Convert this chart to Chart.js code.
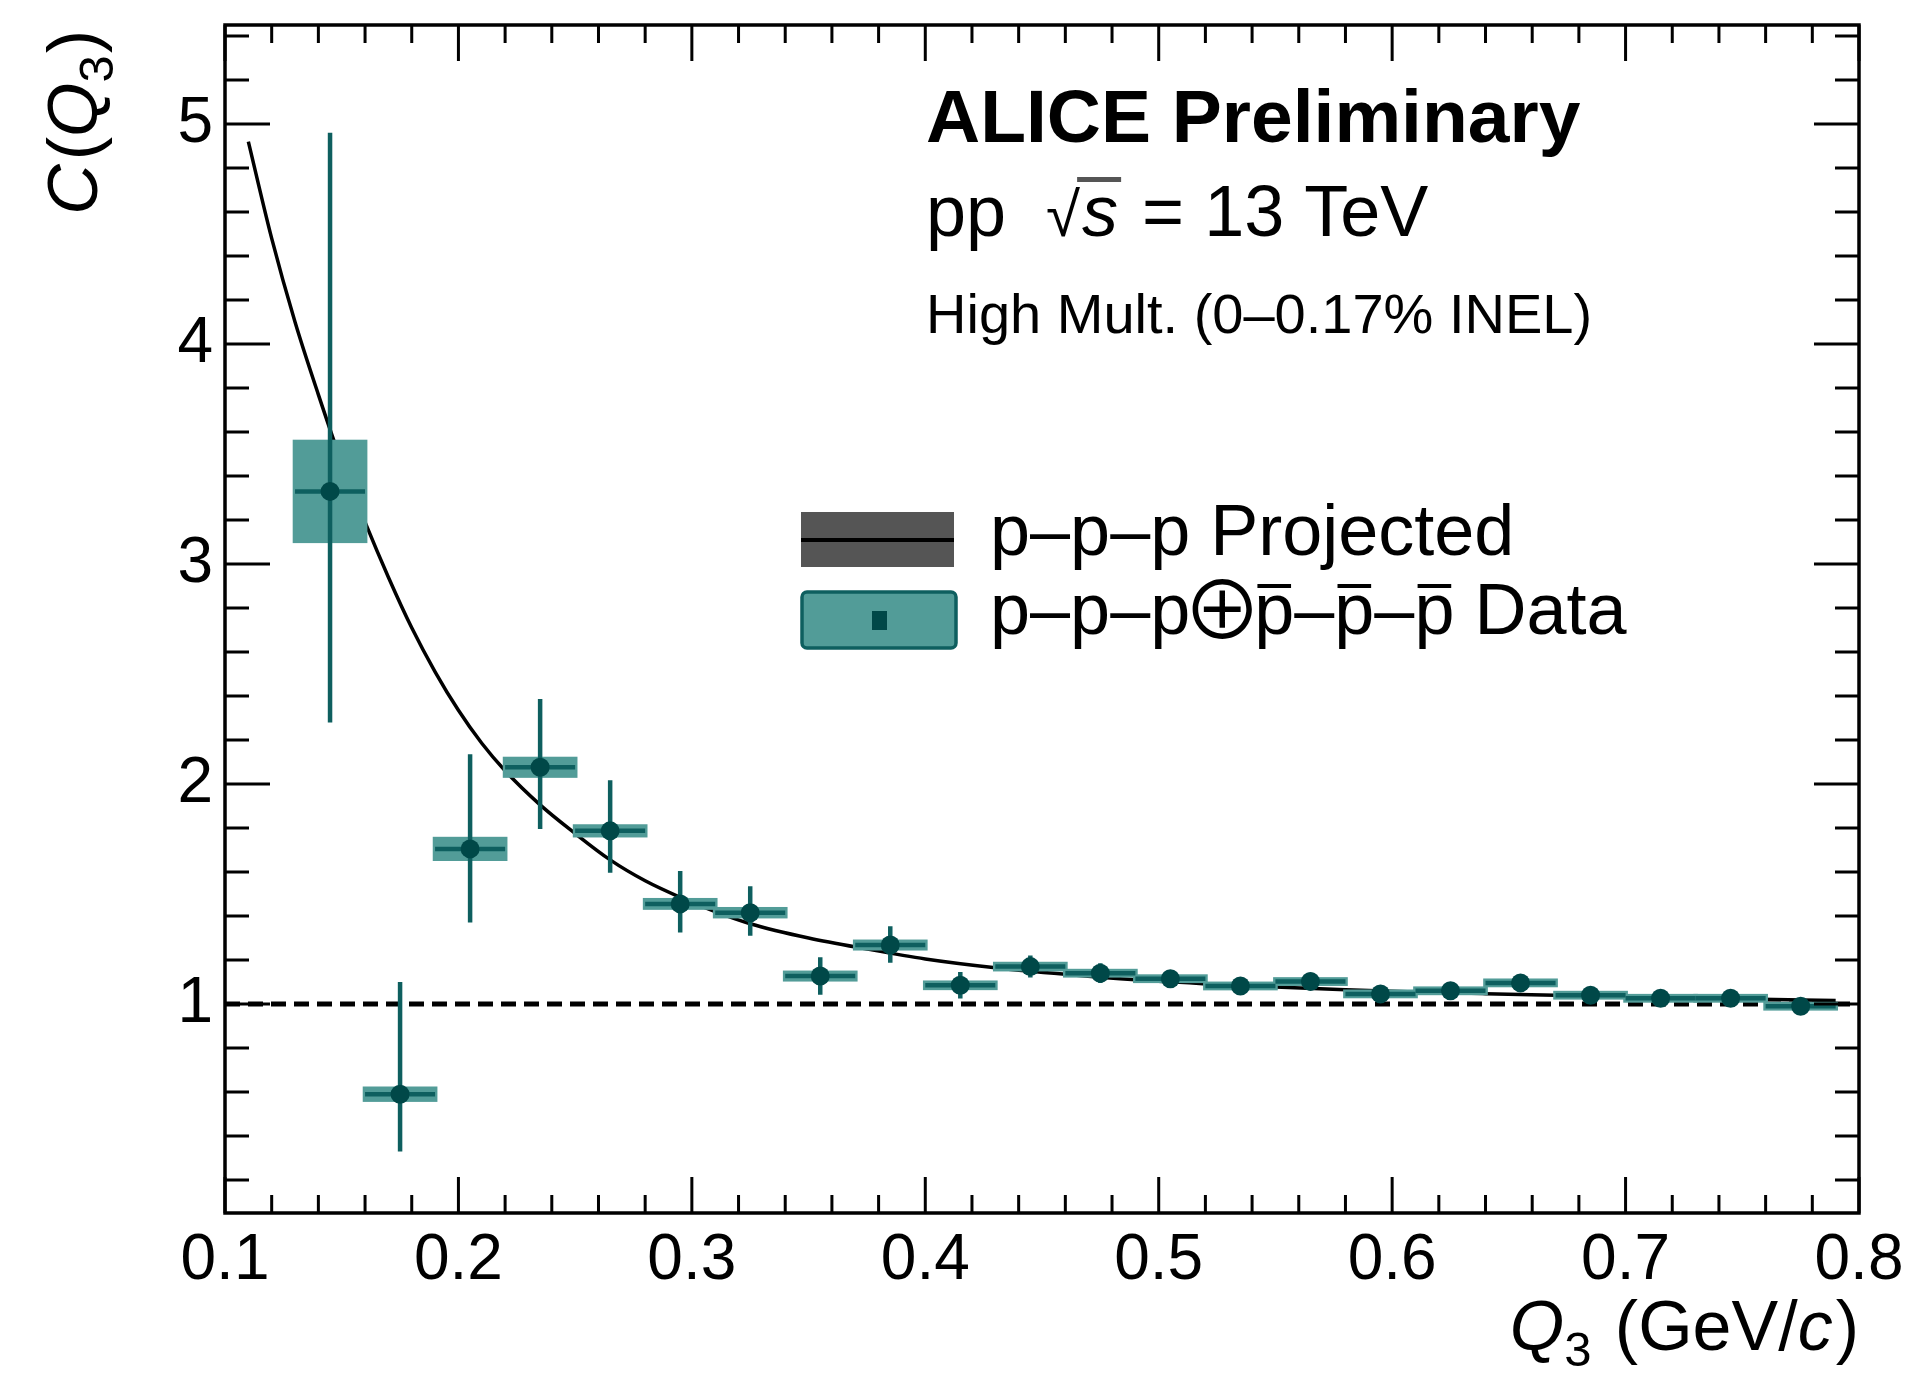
<!DOCTYPE html>
<html>
<head>
<meta charset="utf-8">
<title>p-p-p correlation function</title>
<script src="https://cdn.jsdelivr.net/npm/chart.js@4.4.1/dist/chart.umd.min.js"></script>
<style>
  html, body { margin: 0; padding: 0; background: #fff; }
  canvas { display: block; }
</style>
</head>
<body>
<canvas id="c3Chart" width="1911" height="1375"></canvas>
<script>
// Measured C(Q3), bin centres in GeV/c
const q3Bins = [0.145, 0.175, 0.205, 0.235, 0.265, 0.295, 0.325, 0.355, 0.385, 0.415, 0.445,
                0.475, 0.505, 0.535, 0.565, 0.595, 0.625, 0.655, 0.685, 0.715, 0.745, 0.775];
const corrValues = [3.33, 0.59, 1.705, 2.076, 1.787, 1.455, 1.415, 1.127, 1.268, 1.085, 1.17,
                    1.14, 1.115, 1.082, 1.102, 1.046, 1.06, 1.096, 1.04, 1.026, 1.026, 0.99];
const statUp = [1.63, 0.51, 0.43, 0.31, 0.23, 0.15, 0.12, 0.085, 0.085, 0.06, 0.05,
                0.045, 0.04, 0.04, 0.04, 0.04, 0.035, 0.04, 0.035, 0.035, 0.035, 0.035];
const statDown = [1.05, 0.26, 0.335, 0.28, 0.19, 0.13, 0.105, 0.085, 0.08, 0.06, 0.05,
                  0.045, 0.04, 0.04, 0.04, 0.04, 0.035, 0.04, 0.035, 0.035, 0.035, 0.035];
const systErr = [0.235, 0.035, 0.055, 0.048, 0.03, 0.027, 0.026, 0.025, 0.025, 0.022, 0.022,
                 0.02, 0.02, 0.02, 0.02, 0.02, 0.02, 0.02, 0.02, 0.02, 0.02, 0.02];
const binHalfWidth = 0.015;
const boxHalfWidth = 0.016;

// p-p-p projected curve
const projQ3 = [0.11, 0.12, 0.13, 0.14, 0.15, 0.16, 0.17, 0.18, 0.19, 0.20, 0.21, 0.22,
                0.235, 0.25, 0.265, 0.28, 0.295, 0.31, 0.325, 0.35, 0.375, 0.40, 0.43,
                0.46, 0.49, 0.52, 0.55, 0.58, 0.61, 0.64, 0.67, 0.70, 0.74, 0.79];
const projCorr = [4.92, 4.48, 4.10, 3.77, 3.46, 3.19, 2.94, 2.71, 2.51, 2.335, 2.185, 2.06,
                  1.905, 1.775, 1.655, 1.56, 1.485, 1.42, 1.365, 1.30, 1.25, 1.205, 1.165,
                  1.135, 1.11, 1.092, 1.077, 1.065, 1.055, 1.047, 1.04, 1.033, 1.025, 1.016];

// axes
const xTickValues = [0.1, 0.2, 0.3, 0.4, 0.5, 0.6, 0.7, 0.8];
const yTickValues = [1, 2, 3, 4, 5];
const xRange = [0.1, 0.8];
const yRange = [0.05, 5.45];

const FONT = "'Liberation Sans', Arial, Helvetica, sans-serif";
const SYMBOL_FONT = "'Noto Sans CJK JP', 'DejaVu Sans', sans-serif";
const BOX_COLOR = 'rgb(82, 156, 152)';
const BAR_COLOR = '#0e5f5f';
const MARKER_COLOR = '#004848';

// draws a list of text pieces one after another on a common baseline
function drawRuns(ctx, runs, x, y, align) {
  let total = 0;
  runs.forEach(r => {
    ctx.font = r.font;
    r.w = ctx.measureText(r.text).width;
    total += r.w + (r.gap || 0);
  });
  let cx = align === 'right' ? x - total : x;
  ctx.textAlign = 'left';
  runs.forEach(r => {
    cx += r.gap || 0;
    ctx.font = r.font;
    ctx.fillText(r.text, cx, y + (r.dy || 0));
    if (r.bar) ctx.fillRect(cx + r.w * 0.08, y - r.bar, r.w * 0.84, 4);
    r.x = cx;
    cx += r.w;
  });
  return runs;
}

// no label overhang padding: keeps the plot frame where the layout puts it
function noScalePadding(s) {
  s.paddingTop = 0;
  s.paddingBottom = 0;
  s.paddingLeft = 0;
  s.paddingRight = 0;
}

const rootStyle = {
  id: 'rootStyle',
  beforeDatasetDraw(chart, args) {
    if (args.index !== 0) return;
    const { ctx, chartArea: a, scales: { x, y } } = chart;
    ctx.save();
    ctx.beginPath();
    ctx.rect(a.left, a.top, a.right - a.left, a.bottom - a.top);
    ctx.clip();
    // systematic boxes
    ctx.fillStyle = BOX_COLOR;
    q3Bins.forEach((q, i) => {
      const x0 = x.getPixelForValue(q - boxHalfWidth);
      const x1 = x.getPixelForValue(q + boxHalfWidth);
      const y0 = y.getPixelForValue(corrValues[i] + systErr[i]);
      const y1 = y.getPixelForValue(corrValues[i] - systErr[i]);
      ctx.fillRect(x0, y0, x1 - x0, y1 - y0);
    });
    // statistical error bars
    ctx.strokeStyle = BAR_COLOR;
    ctx.lineWidth = 4.5;
    q3Bins.forEach((q, i) => {
      const xc = x.getPixelForValue(q);
      const yc = y.getPixelForValue(corrValues[i]);
      ctx.beginPath();
      ctx.moveTo(x.getPixelForValue(q - binHalfWidth), yc);
      ctx.lineTo(x.getPixelForValue(q + binHalfWidth), yc);
      ctx.moveTo(xc, y.getPixelForValue(corrValues[i] + statUp[i]));
      ctx.lineTo(xc, y.getPixelForValue(corrValues[i] - statDown[i]));
      ctx.stroke();
    });
    ctx.restore();
  },
  afterDraw(chart) {
    const { ctx, chartArea: a, scales: { x, y } } = chart;
    ctx.save();
    ctx.strokeStyle = '#000';
    ctx.fillStyle = '#000';

    // frame and inward ticks on all four sides
    ctx.lineWidth = 3.5;
    ctx.strokeRect(a.left, a.top, a.right - a.left, a.bottom - a.top);
    ctx.lineWidth = 3;
    ctx.beginPath();
    for (let k = 0; k <= 35; k++) {
      const px = x.getPixelForValue(0.1 + k * 0.02);
      const len = k % 5 === 0 ? 36 : 18;
      ctx.moveTo(px, a.bottom); ctx.lineTo(px, a.bottom - len);
      ctx.moveTo(px, a.top); ctx.lineTo(px, a.top + len);
    }
    for (let k = 1; k <= 27; k++) {
      const py = y.getPixelForValue(k * 0.2);
      const len = k % 5 === 0 ? 45 : 24;
      ctx.moveTo(a.left, py); ctx.lineTo(a.left + len, py);
      ctx.moveTo(a.right, py); ctx.lineTo(a.right - len, py);
    }
    ctx.stroke();

    // axis titles
    ctx.textBaseline = 'alphabetic';
    drawRuns(ctx, [
      { text: 'Q', font: `italic 70px ${FONT}` },
      { text: '3', font: `49px ${FONT}`, dy: 16 },
      { text: ' (GeV/', font: `70px ${FONT}`, gap: 4 },
      { text: 'c', font: `italic 70px ${FONT}` },
      { text: ')', font: `70px ${FONT}`, gap: 3 }
    ], a.right, 1350, 'right');

    ctx.save();
    ctx.translate(97, 30);
    ctx.rotate(-Math.PI / 2);
    drawRuns(ctx, [
      { text: 'C', font: `italic 70px ${FONT}` },
      { text: '(', font: `70px ${FONT}`, gap: 4 },
      { text: 'Q', font: `italic 70px ${FONT}` },
      { text: '3', font: `49px ${FONT}`, dy: 16 },
      { text: ')', font: `70px ${FONT}`, gap: 2 }
    ], 0, 0, 'right');
    ctx.restore();

    // experiment labels
    ctx.font = `bold 75px ${FONT}`;
    ctx.fillText('ALICE Preliminary', 926, 142);
    const line2 = drawRuns(ctx, [
      { text: 'pp', font: `72px ${FONT}` },
      { text: '\u221A', font: `62px ${FONT}`, gap: 40 },
      { text: 's', font: `italic 72px ${FONT}`, gap: 2 },
      { text: '= 13 TeV', font: `72px ${FONT}`, gap: 24 }
    ], 926, 236, 'left');
    const sRun = line2[2];
    ctx.fillStyle = '#555';
    ctx.fillRect(line2[1].x + line2[1].w - 3, 177, sRun.x + sRun.w - line2[1].x - line2[1].w + 6, 5);
    ctx.fillStyle = '#000';
    ctx.font = `56px ${FONT}`;
    ctx.fillText('High Mult. (0\u20130.17% INEL)', 926, 333);

    // legend
    ctx.fillStyle = '#555';
    ctx.fillRect(801, 512, 153, 55);
    ctx.strokeStyle = '#000';
    ctx.lineWidth = 4;
    ctx.beginPath(); ctx.moveTo(801, 540); ctx.lineTo(954, 540); ctx.stroke();

    ctx.fillStyle = BOX_COLOR;
    ctx.strokeStyle = BAR_COLOR;
    ctx.lineWidth = 3.5;
    ctx.beginPath();
    ctx.roundRect(802, 592, 154, 56, 5);
    ctx.fill(); ctx.stroke();
    ctx.fillStyle = MARKER_COLOR;
    ctx.fillRect(872, 611, 15, 19);

    ctx.fillStyle = '#000';
    ctx.font = `72px ${FONT}`;
    ctx.fillText('p\u2013p\u2013p Projected', 990, 555);
    drawRuns(ctx, [
      { text: 'p\u2013p\u2013p', font: `72px ${FONT}` },
      { text: '\u2295', font: `80px ${SYMBOL_FONT}`, gap: -8, dy: 5 },
      { text: 'p', font: `72px ${FONT}`, bar: 50, gap: -8 },
      { text: '\u2013', font: `72px ${FONT}` },
      { text: 'p', font: `72px ${FONT}`, bar: 50 },
      { text: '\u2013', font: `72px ${FONT}` },
      { text: 'p', font: `72px ${FONT}`, bar: 50 },
      { text: ' Data', font: `72px ${FONT}` }
    ], 990, 634, 'left');
    ctx.restore();
  }
};

const ctx = document.getElementById('c3Chart').getContext('2d');
const c3Chart = new Chart(ctx, {
  type: 'scatter',
  data: {
    datasets: [
      {
        label: 'p-p-p + pbar-pbar-pbar Data',
        data: q3Bins.map((q, i) => ({ x: q, y: corrValues[i] })),
        pointStyle: 'circle',
        pointRadius: 9.5,
        pointBackgroundColor: MARKER_COLOR,
        pointBorderWidth: 0,
        order: 1
      },
      {
        label: 'p-p-p Projected',
        type: 'line',
        data: projQ3.map((q, i) => ({ x: q, y: projCorr[i] })),
        borderColor: '#000',
        borderWidth: 3.5,
        pointRadius: 0,
        cubicInterpolationMode: 'monotone',
        fill: false,
        order: 2
      },
      {
        label: 'unity',
        type: 'line',
        data: [{ x: xRange[0], y: 1 }, { x: xRange[1], y: 1 }],
        borderColor: '#000',
        borderWidth: 5,
        borderDash: [15, 8],
        pointRadius: 0,
        fill: false,
        order: 3
      }
    ]
  },
  options: {
    responsive: false,
    animation: false,
    devicePixelRatio: 1,
    layout: { padding: { top: 25, right: 52, left: 0, bottom: 0 } },
    plugins: { legend: { display: false }, tooltip: { enabled: false } },
    scales: {
      x: {
        type: 'linear',
        min: xRange[0],
        max: xRange[1],
        grid: { display: false, drawTicks: false },
        border: { display: false },
        afterBuildTicks: s => { s.ticks = xTickValues.map(v => ({ value: v })); },
        afterFit: s => { s.height = 162; noScalePadding(s); },
        ticks: {
          color: '#000',
          font: { family: FONT, size: 64 },
          padding: 10,
          maxRotation: 0,
          autoSkip: false,
          callback: v => v.toFixed(1)
        }
      },
      y: {
        type: 'linear',
        min: yRange[0],
        max: yRange[1],
        grid: { display: false, drawTicks: false },
        border: { display: false },
        afterBuildTicks: s => { s.ticks = yTickValues.map(v => ({ value: v })); },
        afterFit: s => { s.width = 225; noScalePadding(s); },
        ticks: {
          color: '#000',
          font: { family: FONT, size: 64 },
          padding: 12,
          autoSkip: false,
          callback: v => String(v)
        }
      }
    }
  },
  plugins: [rootStyle]
});
</script>
</body>
</html>
